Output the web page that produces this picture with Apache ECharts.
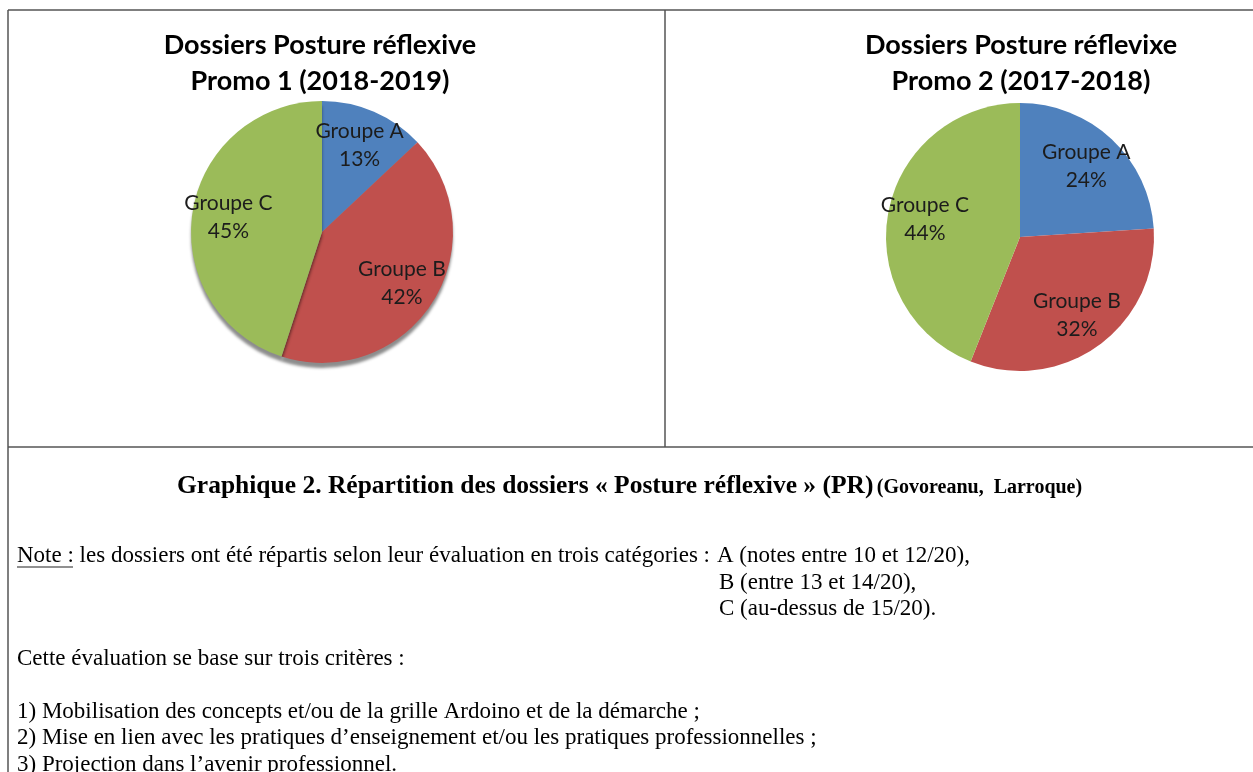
<!DOCTYPE html>
<html>
<head>
<meta charset="utf-8">
<script src="https://cdn.jsdelivr.net/npm/echarts@6/dist/echarts.min.js"></script>
<style>
html, body { margin: 0; padding: 0; background: #fff; }
#chartBox { width: 1253px; height: 772px; }
</style>
</head>
<body>
<div id="chartBox"></div>
<script>
// données (en %)
let groupes = ['Groupe A', 'Groupe B', 'Groupe C'];
let promo1 = [13, 42, 45];
let promo2 = [24, 32, 44];
let couleurs = ['#4F81BD', '#C0504D', '#9BBB59'];

let titre1 = 'Dossiers Posture réflexive\nPromo 1 (2018-2019)';
let titre2 = 'Dossiers Posture réflevixe\nPromo 2 (2017-2018)';

let serif = '"Liberation Serif", "Times New Roman", serif';
let sans = 'Lato, "Open Sans", sans-serif';
let corps = '23px ' + serif;

function makeData(vals) {
    return groupes.map(function (g, i) {
        return {name: g, value: vals[i], itemStyle: {color: couleurs[i]}};
    });
}

// une part de camembert + une couche transparente pour placer les étiquettes à ~70% du rayon
function pieSeries(vals, center, r, ombre) {
    let base = {
        type: 'pie', center: center, radius: [0, r], startAngle: 90, clockwise: true,
        silent: true, animation: false,
        label: {show: false}, labelLine: {show: false},
        itemStyle: {borderWidth: 0},
        data: makeData(vals)
    };
    if (ombre) {
        base.itemStyle = {borderWidth: 0, shadowColor: 'rgba(0,0,0,0.45)', shadowOffsetY: 5, shadowBlur: 3};
    }
    let labels = {
        type: 'pie', center: center, radius: [r * 0.4, r], startAngle: 90, clockwise: true,
        silent: true, animation: false, z: 5,
        itemStyle: {color: 'rgba(0,0,0,0)', borderWidth: 0},
        label: {
            show: true, position: 'inside', formatter: '{b}\n{c}%',
            color: '#1c1c1c', fontFamily: sans, fontSize: 21, lineHeight: 28
        },
        labelLine: {show: false},
        data: groupes.map(function (g, i) { return {name: g, value: vals[i]}; })
    };
    return [base, labels];
}

function ligne(x1, y1, x2, y2, w, c) {
    return {type: 'line', silent: true, shape: {x1: x1, y1: y1, x2: x2, y2: y2},
        style: {stroke: c || '#555', lineWidth: w || 1.5}};
}

function texte(str, x, y) {
    return {type: 'text', x: x, y: y, silent: true,
        style: {text: str, font: corps, fill: '#000', align: 'left', verticalAlign: 'middle',
            textAlign: 'left', textVerticalAlign: 'middle'}};
}

let chartBox = echarts.init(document.getElementById('chartBox'));
let option = {
    animation: false,
    title: [
        {text: titre1, left: 315, top: 22, textAlign: 'center',
            textStyle: {fontFamily: sans, fontSize: 27, fontWeight: 'bold', color: '#000', lineHeight: 36}},
        {text: titre2, left: 1016, top: 22, textAlign: 'center',
            textStyle: {fontFamily: sans, fontSize: 27, fontWeight: 'bold', color: '#000', lineHeight: 36}}
    ],
    series: [].concat(
        pieSeries(promo1, [322, 232], 131, true),
        pieSeries(promo2, [1020, 237], 134, false)
    ),
    graphic: [
        // cadre du tableau
        ligne(8, 10, 1253, 10),
        ligne(8, 10, 8, 772),
        ligne(665, 10, 665, 447),
        ligne(8, 447, 1253, 447),
        // légende du graphique
        {type: 'text', x: 177, y: 486, silent: true,
            style: {
                text: '{a|Graphique 2. Répartition des dossiers « Posture réflexive » (PR)} {b|(Govoreanu,  Larroque)}',
                fill: '#000', align: 'left', verticalAlign: 'middle',
                rich: {
                    a: {font: 'bold 25.5px ' + serif, fill: '#000'},
                    b: {font: 'bold 20px ' + serif, fill: '#000', padding: [4, 0, 0, 0]}
                }
            }},
        texte('Note : les dossiers ont été répartis selon leur évaluation en trois catégories :', 17, 556),
        ligne(17, 567, 73, 567, 1.2, '#222'),
        texte('A (notes entre 10 et 12/20),', 717, 556),
        texte('B (entre 13 et 14/20),', 719, 583),
        texte('C (au-dessus de 15/20).', 719, 609),
        texte('Cette évaluation se base sur trois critères :', 17, 659),
        texte('1) Mobilisation des concepts et/ou de la grille Ardoino et de la démarche ;', 17, 712),
        texte('2) Mise en lien avec les pratiques d’enseignement et/ou les pratiques professionnelles ;', 17, 738),
        texte('3) Projection dans l’avenir professionnel.', 17, 765)
    ]
};
chartBox.setOption(option, true);
</script>
</body>
</html>
